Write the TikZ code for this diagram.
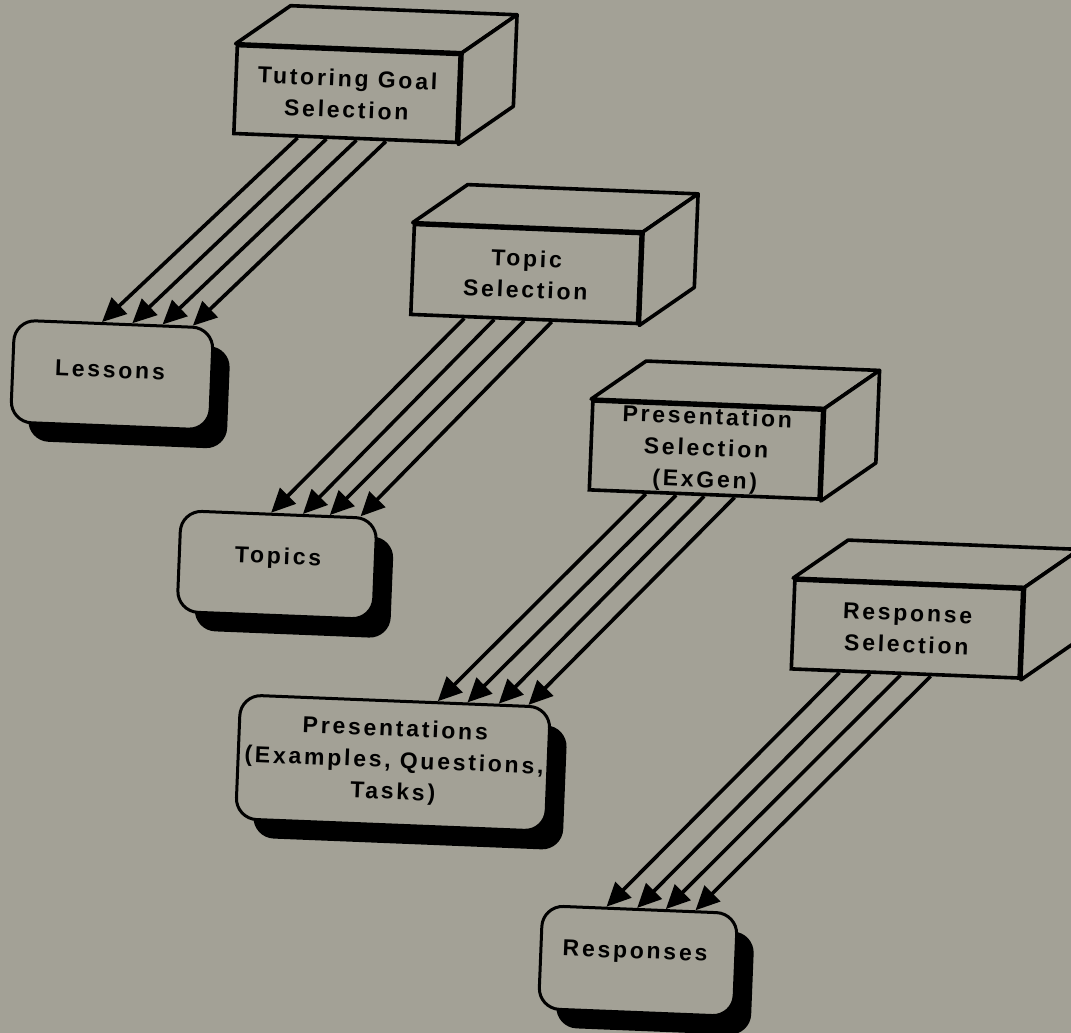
\documentclass[tikz,border=0pt]{standalone}
\usepackage{fontspec}
\newfontfamily\lblfont{Liberation Sans}[LetterSpace=12]
\newcommand\lblf{\lblfont\bfseries\fontsize{23}{31.5}\selectfont}
\usetikzlibrary{arrows.meta,calc,shadows}
\definecolor{paper}{RGB}{163,161,150}

% the two visible faces (top and right) behind a front panel
\newcommand\cubefaces[1]{%
  \draw[face] (#1.north west) -- ++(55,-38) -- ($(#1.north east)+(55,-38)$) -- (#1.north east) -- cycle;
  \draw[face] (#1.north east) -- ++(55,-38) -- ($(#1.south east)+(55,-38)$) -- (#1.south east) -- cycle;}

\begin{document}
\begin{tikzpicture}[x=1pt,y=-1pt,
  tilt/.style={rotate=-2.3},
  face/.style={draw,line width=3.6pt,fill=paper,line join=round},
  front/.style={tilt,draw,line width=3.6pt,fill=paper,inner sep=0pt,
    minimum width=#1,minimum height=89pt,align=center,font=\lblf},
  store/.style={tilt,draw,line width=3pt,fill=paper,rounded corners=21pt,inner sep=0pt,
    drop shadow={shadow xshift=17pt,shadow yshift=-19pt,fill=black,opacity=1}},
  storetext/.style={tilt,align=center,font=\lblf,inner sep=0pt},
  flow/.style={line width=3.6pt,-{Triangle[length=24pt,width=22pt]}}
]
\useasboundingbox (0,0) rectangle (1071,1033);
\fill[paper] (0,0) rectangle (1071,1033);
\clip (0,0) rectangle (1071,1033);

% data stores with drop shadows
\node[store,minimum width=199pt,minimum height=102pt] (lessons) at (112,375) {};
\node[storetext] (lessons-t) at (110,370) {Lessons};
\node[store,minimum width=196pt,minimum height=101pt] (topics) at (277,565) {};
\node[storetext] (topics-t) at (278,558) {Topics};
\node[store,minimum width=310pt,minimum height=124pt] (pres) at (393,763) {};
\node[storetext] (pres-t) at (394,762) {Presentations\\(Examples, Questions,\\Tasks)};
\node[store,minimum width=195pt,minimum height=103pt] (resp) at (638,961) {};
\node[storetext] (resp-t) at (635,953) {Responses};

% selection processes drawn as boxes
\node[front=223pt,minimum height=88pt] (b1) at (347,94) {Tutoring Goal\\Selection};
\cubefaces{b1}
\node[front=227pt,minimum height=90pt] (b2) at (526,274) {Topic\\Selection};
\cubefaces{b2}
\node[front=230pt] (b3) at (706,450) {Presentation\\Selection\\(ExGen)};
\cubefaces{b3}
\node[front=228pt] (b4) at (907,629) {Response\\Selection};
\cubefaces{b4}

% four parallel flows from each process to its store
\foreach \s/\e in {0.29/0.44,0.417/0.59,0.55/0.74,0.68/0.89}
  \draw[flow] ($(b1.south west)!\s!(b1.south east)$) -- ($(lessons.north west)!\e!(lessons.north east)$);
\foreach \s/\e in {0.24/0.46,0.37/0.62,0.50/0.755,0.62/0.91}
  \draw[flow] ($(b2.south west)!\s!(b2.south east)$) -- ($(topics.north west)!\e!(topics.north east)$);
\foreach \s/\e in {0.25/0.635,0.38/0.73,0.50/0.83,0.63/0.925}
  \draw[flow] ($(b3.south west)!\s!(b3.south east)$) -- ($(pres.north west)!\e!(pres.north east)$);
\foreach \s/\e in {0.216/0.33,0.348/0.485,0.48/0.63,0.61/0.78}
  \draw[flow] ($(b4.south west)!\s!(b4.south east)$) -- ($(resp.north west)!\e!(resp.north east)$);
\end{tikzpicture}
\end{document}
